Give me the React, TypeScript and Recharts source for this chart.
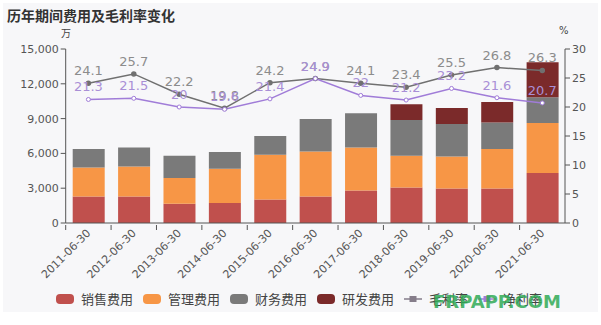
import { ComposedChart, Bar, Line, XAxis, YAxis, LabelList } from "recharts";

const dates = [
  "2011-06-30", "2012-06-30", "2013-06-30", "2014-06-30", "2015-06-30", "2016-06-30",
  "2017-06-30", "2018-06-30", "2019-06-30", "2020-06-30", "2021-06-30",
];
// 万元
const sales = [2290, 2290, 1660, 1720, 2030, 2290, 2805, 3065, 2980, 2980, 4300];
const mgmt = [2495, 2580, 2210, 2950, 3845, 3870, 3700, 2725, 2750, 3390, 4330];
const finance = [1585, 1635, 1920, 1440, 1635, 2815, 2960, 3100, 2815, 2290, 2215];
const rd = [null, null, null, null, null, null, null, 1350, 1375, 1780, 3015];
// %
const grossMargin = [24.1, 25.7, 22.2, 19.8, 24.2, 24.9, 24.1, 23.4, 25.5, 26.8, 26.3];
const netMargin = [21.3, 21.5, 20, 19.6, 21.4, 24.9, 22, 21.2, 23.2, 21.6, 20.7];

const leftTicks = [0, 3000, 6000, 9000, 12000, 15000];
const rightTicks = [0, 5, 10, 15, 20, 25, 30];

const data = dates.map((d, i) => ({
  date: d,
  sales: sales[i],
  mgmt: mgmt[i],
  finance: finance[i],
  rd: rd[i],
  gross: grossMargin[i],
  net: netMargin[i],
}));

const C = {
  sales: "#c0504d",
  mgmt: "#f79646",
  finance: "#7a7a7a",
  rd: "#7b2a2a",
  gross: "#707070",
  grossLabel: "#8c8c8c",
  net: "#a07cd8",
  netLabel: "#a98fd6",
  axis: "#555",
};

const font = "'DejaVu Sans', sans-serif";
const cjk = "'Noto Sans CJK SC', sans-serif";

const PLOT_LEFT = 65.7;
const PLOT_RIGHT = 565;
const BAND = (PLOT_RIGHT - PLOT_LEFT) / dates.length;

const XTick = (props: any) => {
  const { x, y, payload } = props;
  const axisY = y - 6;
  return (
    <g>
      <line x1={x - BAND / 2} x2={x - BAND / 2} y1={axisY} y2={axisY + 5} stroke={C.axis} />
      <text
        x={x}
        y={y}
        dy={4}
        textAnchor="end"
        fontSize={11}
        fontFamily={font}
        fill={C.axis}
        transform={`rotate(-45, ${x}, ${y})`}
      >
        {payload.value}
      </text>
    </g>
  );
};

const legendItems = [
  { name: "销售费用", color: C.sales, type: "box" },
  { name: "管理费用", color: C.mgmt, type: "box" },
  { name: "财务费用", color: C.finance, type: "box" },
  { name: "研发费用", color: C.rd, type: "box" },
  { name: "毛利率", color: "#857d8a", type: "line" },
  { name: "净利率", color: C.net, type: "line" },
];

export default function App() {
  return (
    <div style={{ position: "absolute", left: 0, top: 0, width: 601, height: 325, background: "#fff", overflow: "hidden" }}>
      <div style={{ position: "absolute", left: 3, top: 3, width: 595, height: 309, background: "#f7f7f9" }} />
      <div style={{ position: "absolute", left: 7, top: 5, fontFamily: cjk, fontWeight: "bold", fontSize: 14, color: "#333" }}>
        历年期间费用及毛利率变化
      </div>
      <div style={{ position: "absolute", left: 61, top: 25, fontFamily: cjk, fontSize: 10, color: "#444" }}>万</div>
      <div style={{ position: "absolute", left: 559, top: 25, fontFamily: font, fontSize: 10, color: "#444" }}>%</div>
      <div style={{ position: "absolute", left: 0, top: 0 }}>
        <ComposedChart
          width={601}
          height={325}
          data={data}
          margin={{ top: 49, left: PLOT_LEFT - 55, right: 601 - PLOT_RIGHT - 36, bottom: 42 }}
          barSize={32}
        >
          <XAxis
            dataKey="date"
            xAxisId={0}
            interval={0}
            tickLine={false}
            tick={<XTick />}
            height={60}
            stroke={C.axis}
          />
          <YAxis
            yAxisId="left"
            width={55}
            domain={[0, 15000]}
            ticks={leftTicks}
            tickFormatter={(v: number) => v.toLocaleString("en-US")}
            tick={{ fontSize: 11, fontFamily: font, fill: C.axis }}
            tickSize={5}
            stroke={C.axis}
          />
          <YAxis
            yAxisId="right"
            orientation="right"
            width={36}
            domain={[0, 30]}
            ticks={rightTicks}
            tick={{ fontSize: 11, fontFamily: font, fill: C.axis }}
            tickSize={5}
            stroke={C.axis}
          />
          <Bar yAxisId="left" dataKey="sales" stackId="a" fill={C.sales} isAnimationActive={false} />
          <Bar yAxisId="left" dataKey="mgmt" stackId="a" fill={C.mgmt} isAnimationActive={false} />
          <Bar yAxisId="left" dataKey="finance" stackId="a" fill={C.finance} isAnimationActive={false} />
          <Bar yAxisId="left" dataKey="rd" stackId="a" fill={C.rd} isAnimationActive={false} />
          <Line
            yAxisId="right"
            dataKey="gross"
            stroke={C.gross}
            strokeWidth={1.5}
            dot={{ r: 2, fill: C.gross, stroke: C.gross }}
            isAnimationActive={false}
          >
            <LabelList dataKey="gross" position="top" offset={8} fill={C.grossLabel} fontSize={13} fontFamily={font} />
          </Line>
          <Line
            yAxisId="right"
            dataKey="net"
            stroke={C.net}
            strokeWidth={1.5}
            dot={{ r: 2, fill: "#fff", stroke: C.net, strokeWidth: 1 }}
            isAnimationActive={false}
          >
            <LabelList dataKey="net" position="top" offset={8} fill={C.netLabel} fontSize={13} fontFamily={font} />
          </Line>
        </ComposedChart>
      </div>
      <div
        style={{
          position: "absolute",
          left: 56,
          top: 289,
          display: "flex",
          alignItems: "center",
          fontFamily: cjk,
          fontSize: 13,
          color: "#444",
          lineHeight: "19px",
        }}
      >
        {legendItems.map((it) => (
          <div key={it.name} style={{ display: "flex", alignItems: "center", gap: 7, marginRight: 10 }}>
            {it.type === "box" ? (
              <span style={{ width: 18, height: 10, borderRadius: 4, background: it.color, display: "inline-block" }} />
            ) : (
              <svg width={18} height={10}>
                <line x1={0} x2={18} y1={5} y2={5} stroke={it.color} strokeWidth={1.5} />
                <rect x={5.5} y={2} width={7} height={6} fill={it.color} />
              </svg>
            )}
            <span>{it.name}</span>
          </div>
        ))}
      </div>
      <div
        style={{
          position: "absolute",
          left: 433,
          top: 292,
          fontFamily: font,
          fontWeight: "bold",
          fontSize: 18,
          lineHeight: "20px",
          color: "rgba(48,170,86,0.85)",
        }}
      >
        FRPAPP.COM
      </div>
    </div>
  );
}
